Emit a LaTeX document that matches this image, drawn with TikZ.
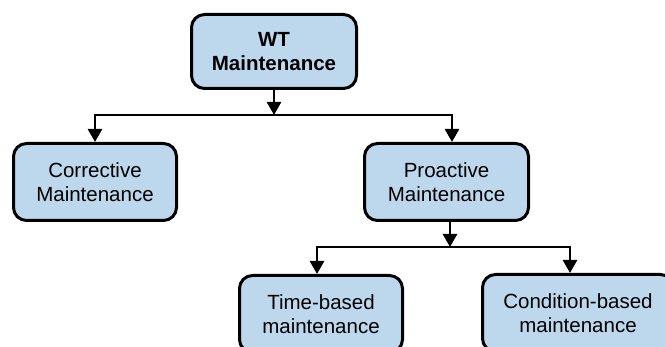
\documentclass[tikz,border=0pt]{standalone}
\usepackage{fontspec}
\setmainfont{Liberation Sans}
\usetikzlibrary{arrows.meta}
\definecolor{boxblue}{RGB}{189,215,237}

\begin{document}
\begin{tikzpicture}[x=1pt,y=-1pt,
  box/.style={draw=black, line width=3pt, fill=boxblue, rounded corners=13pt,
    align=center, minimum width=163pt, minimum height=77pt, inner sep=0pt,
    font=\fontsize{20.5}{23.5}\selectfont},
  arr/.style={-{Triangle[width=14pt,length=13pt]}, line width=2.7pt}]
\useasboundingbox (0,0) rectangle (665,347);
\clip (0,0) rectangle (665,347);
\node [box, minimum width=165pt, minimum height=74pt, font=\fontsize{20.5}{23.5}\selectfont\bfseries] (wt) at (274,51.5) {WT\\Maintenance};
\node [box] (corr) at (95,182) {Corrective\\Maintenance};
\node [box, minimum width=164pt] (proa) at (446.5,182) {Proactive\\Maintenance};
\node [box] (time) at (321,314) {Time-based\\maintenance};
\node [box, minimum width=191pt] (cond) at (578,313) {Condition-based\\maintenance};
%branch points
\coordinate (split1) at (274,115);
\coordinate (split2) at (450,247);
\draw[arr] (wt.south -| split1) -- (split1);
\draw[arr] (split1) -| (corr.north);
\draw[arr] (split1) -| ([xshift=5.5pt]proa.north);
\draw[arr] (proa.south -| split2) -- (split2);
\draw[arr] (split2) -| ([xshift=-4pt]time.north);
\draw[arr] (split2) -| ([xshift=-8pt]cond.north);
\end{tikzpicture}
\end{document}
